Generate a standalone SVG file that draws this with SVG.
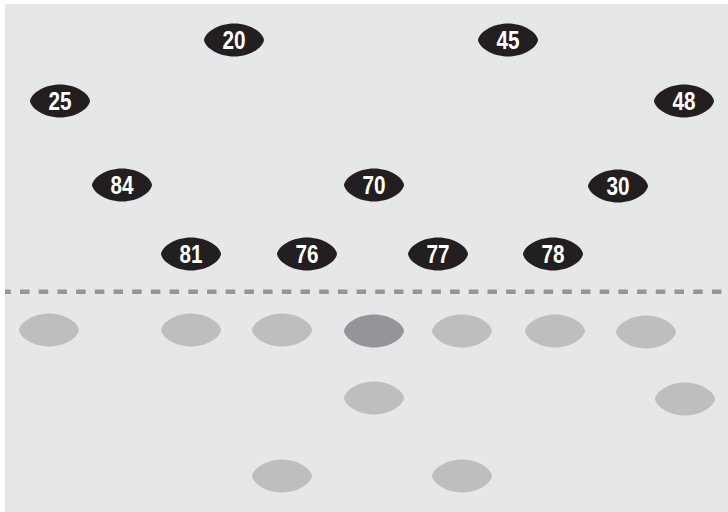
<svg xmlns="http://www.w3.org/2000/svg" xmlns:xlink="http://www.w3.org/1999/xlink" width="728" height="512" viewBox="0 0 728 512">
<style>
.bg{fill:#e6e7e8}
.off{fill:#231f20}
.def{fill:#bcbec0}
.hl{fill:#939598}
.lbl{font-family:"Liberation Sans",Arial,sans-serif;font-weight:bold;font-size:25px;fill:#ffffff;text-anchor:middle}
.los{stroke:#939598;stroke-width:4.5;stroke-dasharray:9.5 9.2;fill:none}
</style>
<defs>
<path id="ball" d="M-30,0 C-29,-7.5 -16,-16.5 0,-16.5 C16,-16.5 29,-7.5 30,0 C29,7.5 16,16.5 0,16.5 C-16,16.5 -29,7.5 -30,0 Z"/>
<clipPath id="field"><rect x="5" y="4" width="723" height="508"/></clipPath>
</defs>
<rect class="bg" x="5" y="4" width="723" height="508"/>
<g id="connectors" clip-path="url(#field)">
<line class="los" x1="1.3" y1="291.7" x2="728" y2="291.7"/>
</g>
<g id="p20"><use href="#ball" class="off" x="234" y="40"/><text class="lbl" x="234" y="49" textLength="23" lengthAdjust="spacingAndGlyphs">20</text></g>
<g id="p45"><use href="#ball" class="off" x="508" y="40"/><text class="lbl" x="508" y="49" textLength="23" lengthAdjust="spacingAndGlyphs">45</text></g>
<g id="p25"><use href="#ball" class="off" x="60" y="101"/><text class="lbl" x="60" y="110" textLength="23" lengthAdjust="spacingAndGlyphs">25</text></g>
<g id="p48"><use href="#ball" class="off" x="684" y="101"/><text class="lbl" x="684" y="110" textLength="23" lengthAdjust="spacingAndGlyphs">48</text></g>
<g id="p84"><use href="#ball" class="off" x="122" y="185"/><text class="lbl" x="122" y="194" textLength="23" lengthAdjust="spacingAndGlyphs">84</text></g>
<g id="p70"><use href="#ball" class="off" x="374" y="185"/><text class="lbl" x="374" y="194" textLength="23" lengthAdjust="spacingAndGlyphs">70</text></g>
<g id="p30"><use href="#ball" class="off" x="618" y="186"/><text class="lbl" x="618" y="195" textLength="23" lengthAdjust="spacingAndGlyphs">30</text></g>
<g id="p81"><use href="#ball" class="off" x="191" y="254"/><text class="lbl" x="191" y="263" textLength="23" lengthAdjust="spacingAndGlyphs">81</text></g>
<g id="p76"><use href="#ball" class="off" x="307" y="254"/><text class="lbl" x="307" y="263" textLength="23" lengthAdjust="spacingAndGlyphs">76</text></g>
<g id="p77"><use href="#ball" class="off" x="438" y="254"/><text class="lbl" x="438" y="263" textLength="23" lengthAdjust="spacingAndGlyphs">77</text></g>
<g id="p78"><use href="#ball" class="off" x="553" y="254"/><text class="lbl" x="553" y="263" textLength="23" lengthAdjust="spacingAndGlyphs">78</text></g>
<g id="d1"><use href="#ball" class="def" x="49" y="330"/></g>
<g id="d2"><use href="#ball" class="def" x="191" y="330"/></g>
<g id="d3"><use href="#ball" class="def" x="282" y="330"/></g>
<g id="d4"><use href="#ball" class="hl" x="374" y="331"/></g>
<g id="d5"><use href="#ball" class="def" x="462" y="331"/></g>
<g id="d6"><use href="#ball" class="def" x="555" y="331"/></g>
<g id="d7"><use href="#ball" class="def" x="646" y="332"/></g>
<g id="d8"><use href="#ball" class="def" x="374" y="398"/></g>
<g id="d9"><use href="#ball" class="def" x="685" y="399"/></g>
<g id="d10"><use href="#ball" class="def" x="282" y="476"/></g>
<g id="d11"><use href="#ball" class="def" x="462" y="476"/></g>
</svg>
